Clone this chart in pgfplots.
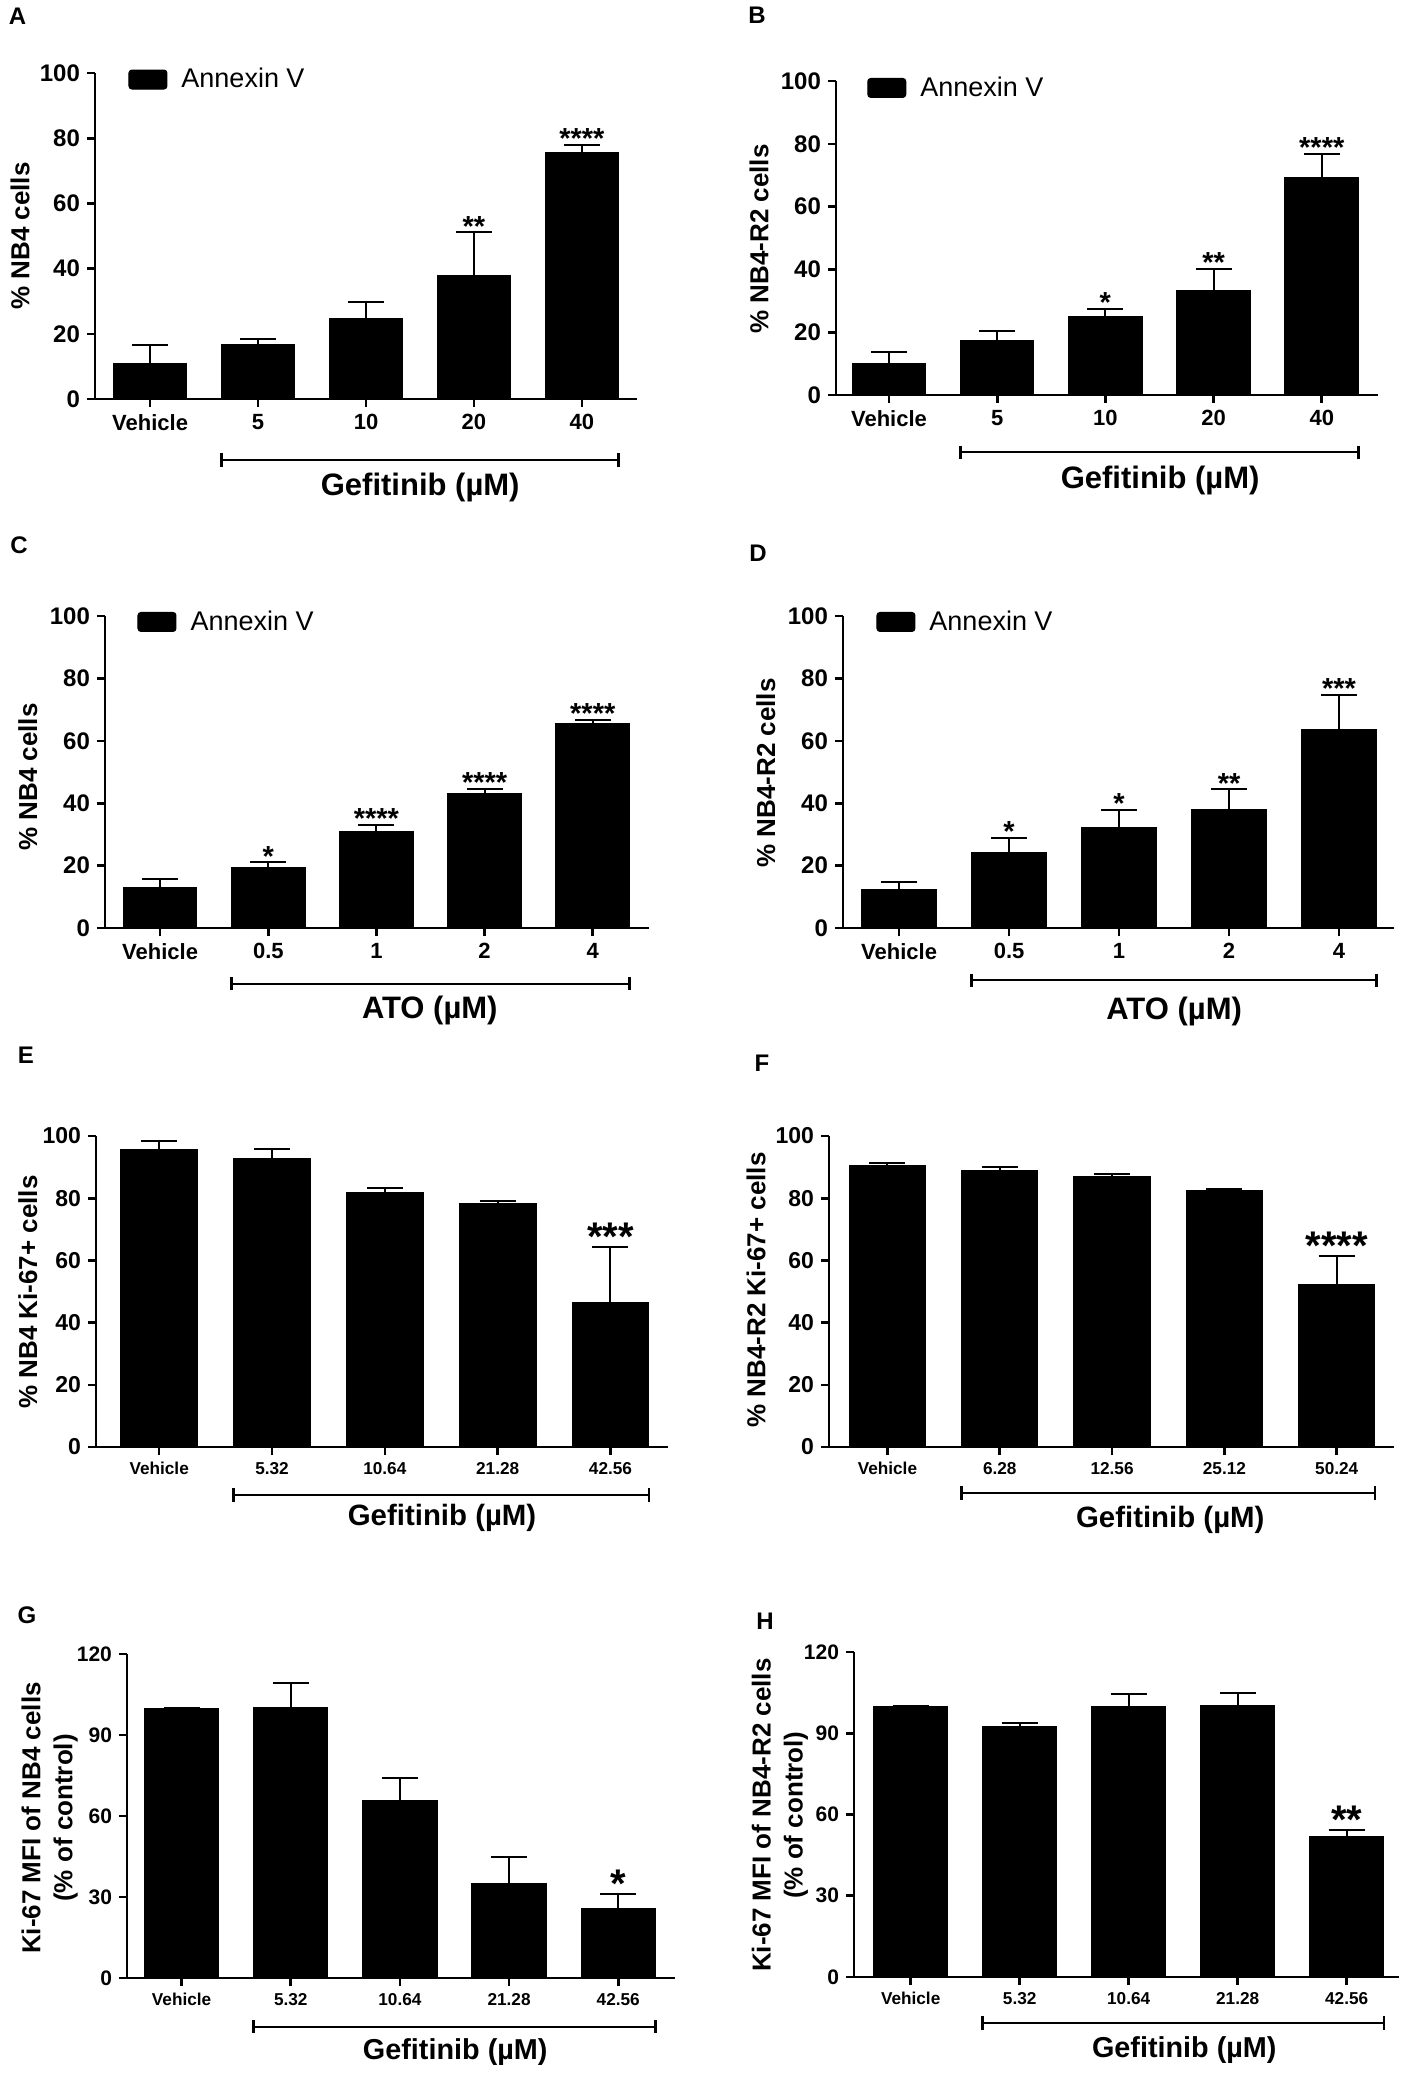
\documentclass[border=0pt]{standalone}
\usepackage{fontspec}
\setmainfont{Liberation Sans}
\usepackage{pgfplots}
\usepackage{pgfplotstable}
\pgfplotsset{compat=1.18}

\pgfplotstableread{
x y e s
0 11.0 5.6 {}
1 16.6 1.7 {}
2 24.8 4.9 {}
3 37.8 13.3 **
4 75.7 2.3 ****
}\tA
\pgfplotstableread{
x y e s
0 9.9 3.7 {}
1 17.3 3.0 {}
2 24.9 2.5 *
3 33.2 7.0 **
4 69.2 7.6 ****
}\tB
\pgfplotstableread{
x y e s
0 13.0 2.6 {}
1 19.5 1.5 *
2 30.9 2.2 ****
3 43.0 1.7 ****
4 65.5 1.2 ****
}\tC
\pgfplotstableread{
x y e s
0 12.5 2.2 {}
1 24.3 4.7 *
2 32.3 5.6 *
3 38.0 6.4 **
4 63.7 11.1 ***
}\tD
\pgfplotstableread{
x y e s
0 95.7 2.6 {}
1 92.9 2.9 {}
2 81.7 1.7 {}
3 78.4 0.7 {}
4 46.5 17.7 ***
}\tE
\pgfplotstableread{
x y e s
0 90.6 0.8 {}
1 89.0 1.1 {}
2 87.0 0.9 {}
3 82.6 0.4 {}
4 52.4 9.0 ****
}\tF
\pgfplotstableread{
x y e s
0 100.0 0.0 {}
1 100.1 9.2 {}
2 65.7 8.3 {}
3 35.0 10.0 {}
4 25.7 5.6 *
}\tG
\pgfplotstableread{
x y e s
0 100.0 0.0 {}
1 92.6 1.3 {}
2 99.8 4.8 {}
3 100.1 4.8 {}
4 51.8 2.4 **
}\tH

\pgfplotsset{
  panel/.style={
    axis lines=left, axis line style={-, line width=1.3pt, black},
    scale only axis, enlargelimits=false, clip=false,
    ymin=0, tick align=outside, major tick length=4pt,
    tick style={line width=1.3pt, black},
    xtick={0,1,2,3,4},
    /pgf/number format/assume math mode=true,
    every axis y label/.style={rotate=90, anchor=center, align=center,
      font=\bfseries\fontsize{13}{16}\selectfont},
    every axis x label/.style={anchor=center,
      font=\bfseries\fontsize{15.5}{18}\selectfont},
    yticklabel style={font=\bfseries\fontsize{12}{14}\selectfont},
    xticklabel style={font=\bfseries\fontsize{11}{13}\selectfont},
    legend cell align=left,
  },
  leg/.style={legend style={at={#1}, anchor=west, draw=none, fill=none,
      inner sep=0pt, font=\fontsize{13.5}{16}\selectfont}},
  bars/.style={ybar, bar width=0.68, bar shift=0pt, fill=black, draw=black,
    line width=0.5pt,
    legend image code/.code={\fill[black, rounded corners=1.5pt] (0pt,-4.75pt) rectangle (19pt,4.75pt); \path (24pt,0pt);},
    /pgfplots/error bars/y dir=plus, /pgfplots/error bars/y explicit,
    /pgfplots/error bars/error bar style={line width=1pt, black},
    /pgfplots/error bars/error mark options={rotate=90, mark size=9pt, line width=1pt, black}},
  stars/.style={only marks, mark=*, mark size=0pt, mark options={draw=none, fill=none},
    point meta=explicit symbolic, nodes near coords,
    nodes near coords style={anchor=south, inner sep=0pt, yshift=-2pt, black, font=#1}},
}
\newcommand{\bracket}[1]{%
  \draw[line width=1.2pt] (axis cs:0.66,#1) -- (axis cs:4.34,#1);
  \draw[line width=1.2pt] ([yshift=3.3pt]axis cs:0.66,#1) -- ([yshift=-3.3pt]axis cs:0.66,#1);
  \draw[line width=1.2pt] ([yshift=3.3pt]axis cs:4.34,#1) -- ([yshift=-3.3pt]axis cs:4.34,#1);}
\newcommand{\starsA}{\bfseries\fontsize{14.5}{16}\selectfont}
\newcommand{\starsE}{\bfseries\fontsize{20}{22}\selectfont}
\newcommand{\letter}{\bfseries\fontsize{12}{14}\selectfont}

\begin{document}
\begin{tikzpicture}
\path[use as bounding box] (0pt,0pt) rectangle (705pt,-1039pt);

% ---------- A ----------
\begin{axis}[panel, at={(47.5pt,-199.5pt)}, anchor=south west,
  width=271pt, height=163pt, xmin=-0.51, xmax=4.51, ymax=100,
  ytick={0,20,...,100}, xticklabels={Vehicle,5,10,20,40},
  ylabel={\% NB4 cells}, ylabel style={at={(rel axis cs:-0.138,0.5)}},
  xlabel={Gefitinib (µM)}, xlabel style={at={(rel axis cs:0.600,-0.270)}},
  leg={(0.061,0.980)}]
\addplot[bars] table[x=x, y=y, y error=e] {\tA};
\addlegendentry{Annexin V}
\addplot[stars=\starsA] table[x=x, y expr=\thisrow{y}+\thisrow{e}, meta=s] {\tA};
\bracket{-18.7}
\end{axis}
\node[font=\letter] at (8.75pt,-8pt) {A};

% ---------- B ----------
\begin{axis}[panel, at={(418pt,-197.5pt)}, anchor=south west,
  width=271pt, height=157pt, xmin=-0.49, xmax=4.52, ymax=100,
  ytick={0,20,...,100}, xticklabels={Vehicle,5,10,20,40},
  ylabel={\% NB4-R2 cells}, ylabel style={at={(rel axis cs:-0.142,0.497)}},
  xlabel={Gefitinib (µM)}, xlabel style={at={(rel axis cs:0.598,-0.271)}},
  leg={(0.057,0.978)}]
\addplot[bars] table[x=x, y=y, y error=e] {\tB};
\addlegendentry{Annexin V}
\addplot[stars=\starsA] table[x=x, y expr=\thisrow{y}+\thisrow{e}, meta=s] {\tB};
\bracket{-18.2}
\end{axis}
\node[font=\letter] at (378.5pt,-7.5pt) {B};

% ---------- C ----------
\begin{axis}[panel, at={(52.5pt,-464pt)}, anchor=south west,
  width=272pt, height=156pt, xmin=-0.51, xmax=4.52, ymax=100,
  ytick={0,20,...,100}, xticklabels={Vehicle,0.5,1,2,4},
  ylabel={\% NB4 cells}, ylabel style={at={(rel axis cs:-0.142,0.484)}},
  xlabel={ATO (µM)}, xlabel style={at={(rel axis cs:0.597,-0.263)}},
  leg={(0.059,0.981)}]
\addplot[bars] table[x=x, y=y, y error=e] {\tC};
\addlegendentry{Annexin V}
\addplot[stars=\starsA] table[x=x, y expr=\thisrow{y}+\thisrow{e}, meta=s] {\tC};
\bracket{-17.9}
\end{axis}
\node[font=\letter] at (9.5pt,-272.5pt) {C};

% ---------- D ----------
\begin{axis}[panel, at={(421.5pt,-464pt)}, anchor=south west,
  width=275.5pt, height=156pt, xmin=-0.51, xmax=4.5, ymax=100,
  ytick={0,20,...,100}, xticklabels={Vehicle,0.5,1,2,4},
  ylabel={\% NB4-R2 cells}, ylabel style={at={(rel axis cs:-0.140,0.497)}},
  xlabel={ATO (µM)}, xlabel style={at={(rel axis cs:0.601,-0.269)}},
  leg={(0.060,0.981)}]
\addplot[bars] table[x=x, y=y, y error=e] {\tD};
\addlegendentry{Annexin V}
\addplot[stars=\starsA] table[x=x, y expr=\thisrow{y}+\thisrow{e}, meta=s] {\tD};
\bracket{-16.7}
\end{axis}
\node[font=\letter] at (379pt,-276.5pt) {D};

% ---------- E ----------
\begin{axis}[panel, at={(48pt,-723.5pt)}, anchor=south west,
  width=286pt, height=155.5pt, xmin=-0.56, xmax=4.51, ymax=100,
  ytick={0,20,...,100}, xticklabels={Vehicle,5.32,10.64,21.28,42.56},
  yticklabel style={font=\bfseries\fontsize{11.5}{14}\selectfont},
  xticklabel style={font=\bfseries\fontsize{8.6}{10}\selectfont},
  ylabel={\% NB4 Ki-67+ cells}, ylabel style={at={(rel axis cs:-0.119,0.498)}},
  xlabel={Gefitinib (µM)}, xlabel style={at={(rel axis cs:0.605,-0.228)}, font=\bfseries\fontsize{14.7}{17}\selectfont}]
\addplot[bars] table[x=x, y=y, y error=e] {\tE};
\addplot[stars=\starsE] table[x=x, y expr=\thisrow{y}+\thisrow{e}, meta=s] {\tE};
\bracket{-15.4}
\end{axis}
\node[font=\letter] at (13pt,-527.5pt) {E};

% ---------- F ----------
\begin{axis}[panel, at={(414.5pt,-723.5pt)}, anchor=south west,
  width=282.5pt, height=155.5pt, xmin=-0.52, xmax=4.51, ymax=100,
  ytick={0,20,...,100}, xticklabels={Vehicle,6.28,12.56,25.12,50.24},
  yticklabel style={font=\bfseries\fontsize{11.5}{14}\selectfont},
  xticklabel style={font=\bfseries\fontsize{8.6}{10}\selectfont},
  ylabel={\% NB4-R2 Ki-67+ cells}, ylabel style={at={(rel axis cs:-0.129,0.505)}},
  xlabel={Gefitinib (µM)}, xlabel style={at={(rel axis cs:0.604,-0.235)}, font=\bfseries\fontsize{14.7}{17}\selectfont}]
\addplot[bars] table[x=x, y=y, y error=e] {\tF};
\addplot[stars=\starsE] table[x=x, y expr=\thisrow{y}+\thisrow{e}, meta=s] {\tF};
\bracket{-14.8}
\end{axis}
\node[font=\letter] at (381pt,-531.5pt) {F};

% ---------- G ----------
\begin{axis}[panel, at={(63.5pt,-989pt)}, anchor=south west,
  width=274pt, height=162pt, xmin=-0.5, xmax=4.52, ymax=120,
  ytick={0,30,...,120}, xticklabels={Vehicle,5.32,10.64,21.28,42.56},
  yticklabel style={font=\bfseries\fontsize{10.5}{13}\selectfont},
  xticklabel style={font=\bfseries\fontsize{8.6}{10}\selectfont},
  ylabel={Ki-67 MFI of NB4 cells\\(\% of control)}, ylabel style={at={(rel axis cs:-0.141,0.494)}},
  xlabel={Gefitinib (µM)}, xlabel style={at={(rel axis cs:0.599,-0.228)}, font=\bfseries\fontsize{14.4}{17}\selectfont}]
\addplot[bars] table[x=x, y=y, y error=e] {\tG};
\addplot[stars=\starsE] table[x=x, y expr=\thisrow{y}+\thisrow{e}, meta=s] {\tG};
\bracket{-18.1}
\end{axis}
\node[font=\letter] at (13.5pt,-807.5pt) {G};

% ---------- H ----------
\begin{axis}[panel, at={(427pt,-988.5pt)}, anchor=south west,
  width=272.5pt, height=162.5pt, xmin=-0.52, xmax=4.48, ymax=120,
  ytick={0,30,...,120}, xticklabels={Vehicle,5.32,10.64,21.28,42.56},
  yticklabel style={font=\bfseries\fontsize{10.5}{13}\selectfont},
  xticklabel style={font=\bfseries\fontsize{8.6}{10}\selectfont},
  ylabel={Ki-67 MFI of NB4-R2 cells\\(\% of control)}, ylabel style={at={(rel axis cs:-0.136,0.498)}},
  xlabel={Gefitinib (µM)}, xlabel style={at={(rel axis cs:0.606,-0.225)}, font=\bfseries\fontsize{14.4}{17}\selectfont}]
\addplot[bars] table[x=x, y=y, y error=e] {\tH};
\addplot[stars=\starsE] table[x=x, y expr=\thisrow{y}+\thisrow{e}, meta=s] {\tH};
\bracket{-17.0}
\end{axis}
\node[font=\letter] at (382.5pt,-810.5pt) {H};

\end{tikzpicture}
\end{document}
